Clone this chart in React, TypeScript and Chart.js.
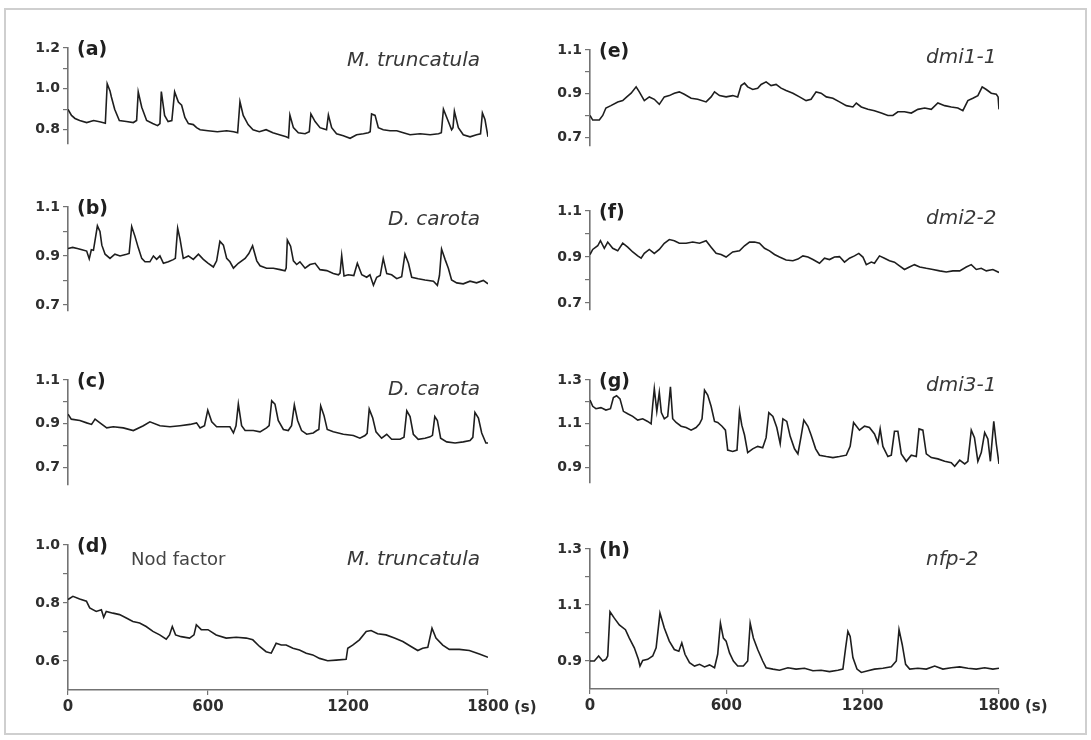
import React, { useEffect, useRef } from "react";
import { Chart, registerables } from "chart.js";

Chart.register(...registerables);

// ---------- data: [time (s), normalized fluorescence ratio] ----------
const seriesA: [number, number][] = [[0,0.90],[15,0.87],[30,0.855],[50,0.845],[80,0.835],[110,0.845],[140,0.838],[160,0.832],[168,1.025],[180,0.99],[186,0.96],[200,0.90],[220,0.845],[250,0.84],[280,0.835],[294,0.845],[301,0.985],[316,0.91],[337,0.845],[363,0.83],[384,0.82],[394,0.83],[400,0.987],[414,0.87],[429,0.84],[445,0.845],[457,0.985],[473,0.935],[487,0.92],[501,0.86],[516,0.83],[537,0.825],[551,0.81],[566,0.80],[600,0.795],[640,0.79],[680,0.795],[710,0.79],[727,0.785],[737,0.937],[751,0.87],[772,0.825],[793,0.80],[820,0.79],[849,0.80],[878,0.785],[906,0.775],[935,0.765],[945,0.76],[951,0.872],[966,0.81],[987,0.785],[1016,0.78],[1034,0.79],[1041,0.877],[1059,0.84],[1080,0.81],[1094,0.805],[1108,0.80],[1116,0.872],[1130,0.81],[1151,0.78],[1180,0.77],[1209,0.758],[1237,0.775],[1266,0.78],[1287,0.785],[1295,0.79],[1301,0.877],[1316,0.87],[1330,0.81],[1351,0.80],[1380,0.795],[1409,0.795],[1437,0.785],[1466,0.775],[1509,0.78],[1552,0.775],[1588,0.78],[1600,0.785],[1609,0.90],[1630,0.84],[1644,0.80],[1650,0.81],[1656,0.89],[1673,0.81],[1694,0.775],[1723,0.765],[1751,0.775],[1768,0.78],[1776,0.882],[1787,0.85],[1800,0.765]];

const seriesB: [number, number][] = [[0,0.93],[20,0.935],[40,0.93],[60,0.925],[80,0.92],[91,0.888],[100,0.925],[109,0.923],[126,1.023],[137,1.0],[145,0.944],[159,0.907],[180,0.89],[201,0.907],[223,0.90],[251,0.907],[262,0.91],[273,1.02],[287,0.98],[301,0.934],[316,0.89],[330,0.876],[351,0.876],[366,0.90],[380,0.886],[394,0.90],[409,0.87],[430,0.876],[451,0.885],[460,0.89],[470,1.013],[480,0.97],[494,0.89],[516,0.90],[537,0.886],[559,0.907],[580,0.886],[601,0.87],[623,0.855],[637,0.88],[651,0.96],[666,0.944],[680,0.89],[694,0.876],[709,0.85],[730,0.87],[759,0.89],[775,0.91],[791,0.942],[809,0.88],[823,0.86],[851,0.85],[880,0.85],[909,0.844],[930,0.839],[935,0.85],[940,0.965],[954,0.94],[966,0.88],[980,0.865],[994,0.876],[1016,0.85],[1037,0.865],[1059,0.87],[1080,0.844],[1109,0.84],[1137,0.828],[1159,0.823],[1166,0.83],[1173,0.902],[1183,0.818],[1201,0.823],[1225,0.82],[1240,0.87],[1259,0.823],[1280,0.813],[1294,0.823],[1309,0.78],[1323,0.813],[1338,0.82],[1351,0.89],[1366,0.828],[1387,0.823],[1409,0.807],[1430,0.815],[1444,0.907],[1459,0.87],[1473,0.813],[1501,0.807],[1530,0.802],[1566,0.797],[1583,0.78],[1592,0.82],[1601,0.928],[1616,0.886],[1630,0.85],[1644,0.802],[1666,0.79],[1694,0.786],[1723,0.797],[1751,0.79],[1780,0.80],[1800,0.786]];

const seriesC: [number, number][] = [[0,0.944],[14,0.921],[51,0.915],[80,0.904],[101,0.897],[116,0.921],[137,0.904],[166,0.881],[194,0.886],[237,0.881],[280,0.869],[323,0.891],[351,0.909],[394,0.891],[437,0.886],[480,0.891],[523,0.897],[551,0.904],[566,0.881],[585,0.891],[599,0.962],[616,0.909],[637,0.886],[666,0.886],[694,0.886],[709,0.858],[720,0.891],[730,0.99],[744,0.891],[759,0.869],[794,0.869],[823,0.863],[851,0.881],[862,0.891],[873,1.005],[887,0.99],[901,0.915],[923,0.874],[944,0.869],[958,0.891],[970,0.986],[984,0.915],[1001,0.869],[1023,0.852],[1051,0.858],[1066,0.869],[1075,0.874],[1083,0.982],[1097,0.938],[1111,0.874],[1137,0.863],[1180,0.852],[1223,0.846],[1251,0.834],[1273,0.846],[1282,0.856],[1291,0.967],[1306,0.926],[1320,0.863],[1344,0.834],[1366,0.852],[1387,0.829],[1423,0.829],[1440,0.838],[1452,0.959],[1466,0.933],[1480,0.852],[1501,0.829],[1530,0.834],[1552,0.84],[1562,0.847],[1572,0.933],[1583,0.915],[1597,0.834],[1623,0.817],[1659,0.812],[1694,0.817],[1723,0.823],[1735,0.838],[1744,0.952],[1759,0.926],[1773,0.858],[1791,0.812],[1800,0.812]];

const seriesD: [number, number][] = [[0,0.812],[21,0.823],[50,0.814],[79,0.806],[93,0.783],[121,0.771],[143,0.777],[153,0.751],[164,0.771],[193,0.765],[221,0.76],[250,0.748],[278,0.736],[307,0.731],[335,0.719],[364,0.702],[393,0.69],[421,0.675],[435,0.69],[447,0.719],[461,0.69],[485,0.684],[521,0.679],[540,0.69],[550,0.725],[571,0.708],[600,0.708],[635,0.69],[678,0.679],[721,0.682],[764,0.679],[792,0.673],[821,0.65],[849,0.632],[871,0.627],[892,0.661],[914,0.655],[935,0.655],[964,0.644],[992,0.638],[1021,0.627],[1049,0.621],[1078,0.609],[1113,0.601],[1149,0.603],[1192,0.606],[1199,0.644],[1220,0.655],[1249,0.673],[1278,0.702],[1299,0.705],[1327,0.694],[1363,0.69],[1399,0.679],[1435,0.667],[1470,0.65],[1499,0.636],[1520,0.644],[1542,0.647],[1560,0.713],[1577,0.679],[1606,0.655],[1634,0.64],[1677,0.64],[1720,0.636],[1763,0.624],[1800,0.613]];

const seriesE: [number, number][] = [[0,0.80],[12,0.779],[41,0.779],[56,0.80],[70,0.834],[92,0.845],[122,0.862],[144,0.868],[162,0.885],[181,0.902],[203,0.931],[217,0.908],[239,0.868],[261,0.885],[283,0.874],[305,0.851],[327,0.885],[349,0.891],[371,0.902],[393,0.908],[415,0.897],[445,0.879],[474,0.874],[511,0.862],[533,0.885],[548,0.908],[570,0.891],[599,0.885],[628,0.891],[650,0.885],[665,0.937],[680,0.948],[694,0.931],[716,0.919],[738,0.925],[753,0.942],[775,0.954],[797,0.937],[819,0.942],[841,0.925],[863,0.914],[893,0.902],[922,0.885],[951,0.868],[973,0.874],[995,0.908],[1017,0.902],[1040,0.885],[1069,0.879],[1098,0.862],[1128,0.845],[1157,0.839],[1172,0.857],[1194,0.839],[1223,0.828],[1252,0.822],[1282,0.811],[1311,0.80],[1333,0.80],[1355,0.817],[1384,0.817],[1414,0.811],[1443,0.828],[1473,0.834],[1502,0.828],[1531,0.857],[1561,0.845],[1590,0.839],[1619,0.834],[1641,0.822],[1663,0.868],[1685,0.879],[1707,0.891],[1726,0.931],[1744,0.919],[1766,0.902],[1788,0.897],[1796,0.885],[1800,0.828]];

const seriesF: [number, number][] = [[0,0.911],[12,0.933],[34,0.949],[46,0.971],[63,0.938],[78,0.965],[100,0.938],[122,0.927],[144,0.96],[166,0.943],[188,0.922],[210,0.905],[225,0.895],[239,0.916],[261,0.933],[283,0.916],[305,0.933],[327,0.96],[349,0.976],[371,0.971],[393,0.96],[423,0.96],[452,0.965],[482,0.96],[511,0.971],[533,0.943],[555,0.916],[577,0.911],[599,0.90],[628,0.922],[658,0.927],[680,0.949],[702,0.965],[724,0.965],[746,0.96],[768,0.938],[790,0.927],[812,0.911],[834,0.90],[863,0.887],[893,0.884],[915,0.891],[937,0.905],[959,0.90],[981,0.889],[1010,0.873],[1032,0.895],[1054,0.889],[1076,0.90],[1098,0.902],[1120,0.878],[1142,0.895],[1164,0.905],[1183,0.916],[1201,0.90],[1216,0.867],[1238,0.878],[1252,0.873],[1274,0.905],[1296,0.895],[1318,0.884],[1340,0.878],[1362,0.862],[1384,0.846],[1406,0.857],[1428,0.867],[1451,0.857],[1480,0.851],[1509,0.846],[1539,0.84],[1568,0.835],[1597,0.84],[1627,0.84],[1656,0.857],[1678,0.867],[1700,0.846],[1722,0.851],[1744,0.84],[1773,0.846],[1800,0.833]];

const seriesG: [number, number][] = [[0,1.209],[12,1.18],[26,1.169],[48,1.174],[70,1.163],[90,1.169],[103,1.22],[117,1.228],[132,1.214],[147,1.157],[166,1.146],[188,1.134],[210,1.117],[232,1.123],[254,1.111],[269,1.10],[276,1.186],[283,1.26],[294,1.157],[305,1.243],[314,1.151],[327,1.123],[342,1.134],[354,1.269],[364,1.123],[379,1.106],[401,1.089],[423,1.083],[445,1.071],[467,1.083],[482,1.10],[493,1.123],[504,1.254],[518,1.231],[533,1.18],[548,1.111],[562,1.106],[581,1.089],[596,1.071],[606,0.98],[628,0.974],[647,0.98],[658,1.157],[668,1.094],[680,1.049],[694,0.969],[716,0.986],[738,0.997],[760,0.991],[775,1.037],[787,1.151],[805,1.134],[822,1.083],[837,1.009],[849,1.123],[866,1.111],[881,1.043],[900,0.986],[915,0.963],[929,1.043],[941,1.117],[959,1.089],[973,1.049],[993,0.986],[1010,0.957],[1040,0.951],[1069,0.946],[1098,0.951],[1128,0.957],[1145,0.997],[1160,1.106],[1186,1.071],[1208,1.089],[1230,1.083],[1252,1.054],[1267,1.014],[1277,1.077],[1289,0.997],[1311,0.951],[1326,0.957],[1340,1.066],[1355,1.066],[1370,0.963],[1392,0.929],[1414,0.957],[1436,0.951],[1448,1.077],[1465,1.071],[1480,0.963],[1502,0.946],[1531,0.94],[1561,0.929],[1590,0.923],[1605,0.906],[1627,0.934],[1649,0.917],[1663,0.929],[1678,1.071],[1692,1.037],[1707,0.929],[1722,0.969],[1737,1.06],[1751,1.031],[1762,0.929],[1777,1.111],[1788,1.009],[1800,0.917]];

const seriesH: [number, number][] = [[0,0.90],[19,0.90],[38,0.918],[56,0.90],[70,0.906],[78,0.918],[88,1.076],[107,1.053],[129,1.029],[156,1.012],[173,0.982],[195,0.947],[213,0.906],[220,0.882],[232,0.902],[254,0.906],[276,0.918],[291,0.947],[308,1.071],[327,1.018],[349,0.971],[371,0.941],[391,0.935],[404,0.965],[418,0.924],[438,0.894],[460,0.882],[482,0.888],[504,0.879],[526,0.886],[548,0.876],[562,0.924],[574,1.035],[587,0.982],[599,0.971],[614,0.929],[631,0.90],[650,0.882],[675,0.882],[694,0.90],[705,1.035],[719,0.982],[738,0.941],[760,0.90],[775,0.876],[805,0.871],[834,0.867],[871,0.876],[907,0.871],[944,0.874],[981,0.865],[1017,0.867],[1054,0.862],[1091,0.867],[1113,0.871],[1125,0.947],[1135,1.006],[1145,0.988],[1157,0.912],[1175,0.871],[1194,0.859],[1223,0.865],[1252,0.871],[1289,0.874],[1326,0.879],[1348,0.90],[1360,1.012],[1374,0.959],[1389,0.888],[1407,0.871],[1443,0.874],[1480,0.871],[1517,0.882],[1553,0.871],[1590,0.876],[1627,0.879],[1663,0.874],[1700,0.871],[1737,0.876],[1773,0.871],[1800,0.874]];

// ---------- tick values / labels ----------
const xTicks = [0, 600, 1200, 1800];
const xUnitLabel = "(s)";
const ticksA = [0.8, 0.9, 1.0, 1.1, 1.2];
const labelsA = [0.8, 1.0, 1.2];
const ticks07 = [0.7, 0.8, 0.9, 1.0, 1.1];
const labels07 = [0.7, 0.9, 1.1];
const ticksD = [0.6, 0.7, 0.8, 0.9, 1.0];
const labelsD = [0.6, 0.8, 1.0];
const ticks09 = [0.9, 1.0, 1.1, 1.2, 1.3];
const labels09 = [0.9, 1.1, 1.3];

const letters = ["(a)", "(b)", "(c)", "(d)", "(e)", "(f)", "(g)", "(h)"];
const speciesNames = ["M. truncatula", "D. carota", "D. carota", "M. truncatula", "dmi1-1", "dmi2-2", "dmi3-1", "nfp-2"];
const treatmentNote = "Nod factor";

// ---------- layout ----------
const COLS = [
  { x0: 68, x1: 488, spAlign: "right" as const, spOffset: -8 },
  { x0: 590, x1: 999, spAlign: "left" as const, spOffset: 336 },
];

type PanelDef = {
  data: [number, number][];
  col: number;
  yTop: number;
  ppu: number;
  min: number;
  max: number;
  ticks: number[];
  labels: number[];
  spDy: number;
  xAxis: boolean;
  note?: boolean;
};

const PANELS: PanelDef[] = [
  { data: seriesA, col: 0, yTop: 48, ppu: 272, min: 0.73, max: 1.2, ticks: ticksA, labels: labelsA, spDy: 13, xAxis: false },
  { data: seriesB, col: 0, yTop: 207, ppu: 320, min: 0.675, max: 1.1, ticks: ticks07, labels: labels07, spDy: 13, xAxis: false },
  { data: seriesC, col: 0, yTop: 380, ppu: 285, min: 0.62, max: 1.1, ticks: ticks07, labels: labels07, spDy: 10, xAxis: false },
  { data: seriesD, col: 0, yTop: 545, ppu: 290, min: 0.5, max: 1.0, ticks: ticksD, labels: labelsD, spDy: 15, xAxis: true, note: true },
  { data: seriesE, col: 1, yTop: 50, ppu: 290, min: 0.66, max: 1.1, ticks: ticks07, labels: labels07, spDy: 8, xAxis: false },
  { data: seriesF, col: 1, yTop: 211, ppu: 305, min: 0.67, max: 1.1, ticks: ticks07, labels: labels07, spDy: 8, xAxis: false },
  { data: seriesG, col: 1, yTop: 380, ppu: 287, min: 0.83, max: 1.3, ticks: ticks09, labels: labels09, spDy: 6, xAxis: false },
  { data: seriesH, col: 1, yTop: 549, ppu: 280, min: 0.8, max: 1.3, ticks: ticks09, labels: labels09, spDy: 11, xAxis: true },
];

const LEFT_W = 60;
const TOP_PAD = 14;
const BOTTOM_PAD = 8;
const X_AXIS_H = 32;
const RIGHT_PAD = 60;
const AXIS_COLOR = "#737373";
const TEXT_COLOR = "#2e2e2e";
const FONT = "'DejaVu Sans', 'Noto Sans', sans-serif";

function Panel({ p, idx }: { p: PanelDef; idx: number }) {
  const ref = useRef<HTMLCanvasElement | null>(null);
  const col = COLS[p.col];
  const plotH = (p.max - p.min) * p.ppu;
  const w = LEFT_W + (col.x1 - col.x0) + RIGHT_PAD;
  const h = Math.round(TOP_PAD + plotH + (p.xAxis ? X_AXIS_H : BOTTOM_PAD));
  const left = col.x0 - LEFT_W;
  const top = p.yTop - TOP_PAD;

  useEffect(() => {
    if (!ref.current) return;
    const textPlugin = {
      id: "panelText" + idx,
      afterDraw(chart: any) {
        const { ctx, chartArea } = chart;
        ctx.save();
        ctx.fillStyle = "#1f1f1f";
        ctx.textBaseline = "middle";
        ctx.textAlign = "left";
        ctx.font = `bold 19px ${FONT}`;
        ctx.fillText(letters[idx], chartArea.left + 9, chartArea.top + 2);
        ctx.fillStyle = "#383838";
        ctx.font = `italic 20px ${FONT}`;
        ctx.textAlign = col.spAlign;
        const sx = col.spAlign === "right" ? chartArea.right + col.spOffset : chartArea.left + col.spOffset;
        ctx.fillText(speciesNames[idx], sx, chartArea.top + p.spDy);
        if (p.note) {
          ctx.font = `18px ${FONT}`;
          ctx.fillStyle = "#444444";
          ctx.textAlign = "left";
          ctx.fillText(treatmentNote, chartArea.left + 63, chartArea.top + 15);
        }
        if (p.xAxis) {
          ctx.font = `bold 15px ${FONT}`;
          ctx.fillStyle = TEXT_COLOR;
          ctx.textAlign = "left";
          ctx.fillText(xUnitLabel, chartArea.right + 26, chartArea.bottom + 18);
        }
        ctx.restore();
      },
    };

    const chart = new Chart(ref.current, {
      type: "line",
      data: {
        datasets: [
          {
            data: p.data.map(([t, v]) => ({ x: t, y: v })),
            borderColor: "#1e1e1e",
            borderWidth: 1.6,
            pointRadius: 0,
            tension: 0,
            fill: false,
          },
        ],
      },
      options: {
        responsive: false,
        maintainAspectRatio: false,
        animation: false,
        events: [],
        layout: { padding: { top: TOP_PAD, right: RIGHT_PAD, bottom: p.xAxis ? 0 : BOTTOM_PAD, left: 0 } },
        plugins: { legend: { display: false }, tooltip: { enabled: false }, title: { display: false } },
        scales: {
          x: {
            type: "linear",
            min: 0,
            max: 1800,
            display: p.xAxis,
            afterFit: (s: any) => {
              s.height = X_AXIS_H;
            },
            afterBuildTicks: (s: any) => {
              s.ticks = xTicks.map((v) => ({ value: v }));
            },
            ticks: {
              autoSkip: false,
              maxRotation: 0,
              padding: 3,
              color: TEXT_COLOR,
              font: { family: FONT, size: 15, weight: "bold" },
              callback: (v: any) => String(v),
            },
            grid: { drawOnChartArea: false, drawTicks: true, tickLength: 5, color: AXIS_COLOR, lineWidth: 1.2 },
            border: { display: true, color: AXIS_COLOR, width: 1.6 },
          },
          y: {
            type: "linear",
            min: p.min,
            max: p.max,
            afterFit: (s: any) => {
              s.width = LEFT_W;
            },
            afterBuildTicks: (s: any) => {
              s.ticks = p.ticks.map((v) => ({ value: v }));
            },
            ticks: {
              autoSkip: false,
              padding: 3,
              color: TEXT_COLOR,
              font: { family: FONT, size: 14, weight: "bold" },
              callback: (v: any) => (p.labels.some((m) => Math.abs(m - Number(v)) < 1e-6) ? Number(v).toFixed(1) : ""),
            },
            grid: { drawOnChartArea: false, drawTicks: true, tickLength: 5, color: AXIS_COLOR, lineWidth: 1.2 },
            border: { display: true, color: AXIS_COLOR, width: 1.6 },
          },
        },
      } as any,
      plugins: [textPlugin],
    });
    return () => chart.destroy();
  }, []);

  return (
    <canvas
      ref={ref}
      width={w}
      height={h}
      style={{ position: "absolute", left, top, width: w, height: h }}
    />
  );
}

export default function App() {
  return (
    <div style={{ position: "absolute", left: 0, top: 0, width: 1091, height: 740, background: "#ffffff", overflow: "hidden" }}>
      <div
        style={{
          position: "absolute",
          left: 4,
          top: 8,
          width: 1079,
          height: 723,
          border: "2px solid #cfcfcf",
        }}
      />
      {PANELS.map((p, i) => (
        <Panel key={i} p={p} idx={i} />
      ))}
    </div>
  );
}
